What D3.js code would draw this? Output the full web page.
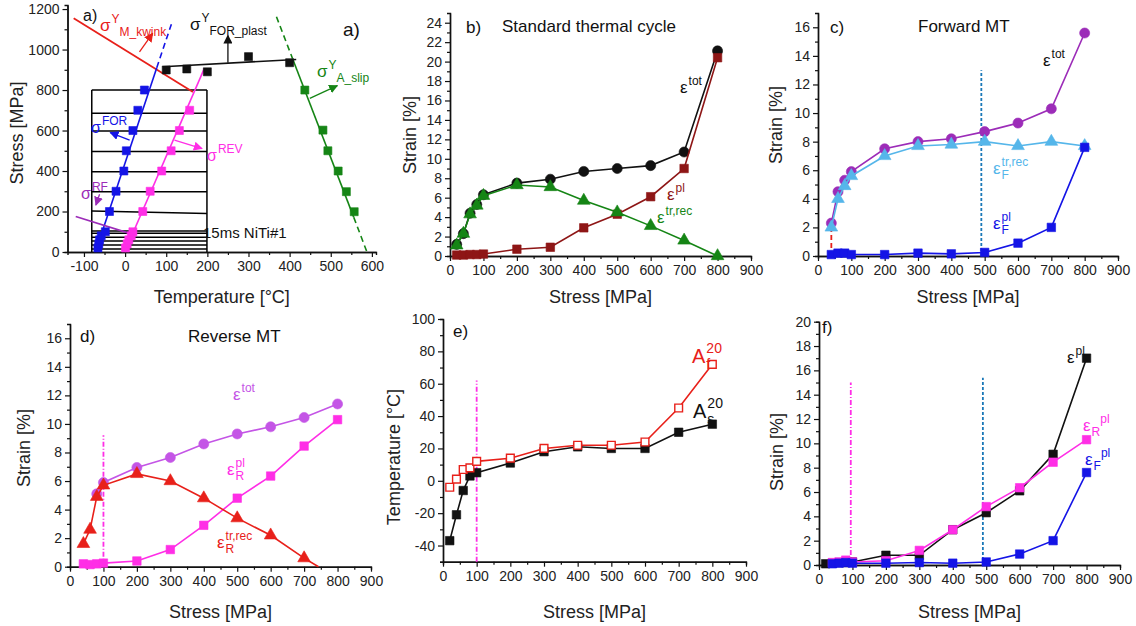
<!DOCTYPE html>
<html lang="en">
<head>
<meta charset="UTF-8" />
<title>NiTi stress / strain panels</title>
<script src="https://d3js.org/d3.v7.min.js"></script>
<style>
  body { margin: 0; background: #fff; }
  text { font-family: "Liberation Sans", Arial, sans-serif; }
</style>
</head>
<body>
<script>
// ---- Data ----
// a) temperature vs stress
const aForStress = [20, 40, 60, 80, 100, 200, 300, 400, 500, 600, 700, 800];
const aForTemp = [-66, -64, -62, -58, -48, -38, -22, -3, 3, 19, 31, 47];
const aRevStress = [20, 40, 60, 80, 100, 200, 300, 400, 500, 600, 700];
const aRevTemp = [1, 5, 9, 15, 19, 43, 61, 89, 112, 132, 157];
const aPlastTemp = [100, 150, 200, 300, 400];
const aPlastStress = [899, 904, 890, 965, 935];
const aSlipTemp = [437, 481, 493, 518, 538, 557];
const aSlipStress = [800, 602, 500, 400, 298, 199];
const aGridLeft = [800, 685, 598, 497, 396, 298, 202, 104, 92, 73, 54, 35, 15];
const aGridRight = [800, 685, 598, 497, 396, 298, 190, 104, 92, 73, 54, 35, 15];
const aGridTemp = [-81, 199];
// fitted lines [temp, stress]
const aFitFor = [[-72, 0], [77, 910]];
const aFitForDash = [[77, 910], [113, 1128]];
const aFitRev = [[-1, 0], [193, 908]];
const aFitKwink = [[-125, 1155], [165, 790]];
const aFitPlast = [[92, 915], [416, 951]];
const aFitSlip = [[407, 956], [556, 171]];
const aFitSlipDash1 = [[368, 1162], [407, 956]];
const aFitSlipDash2 = [[556, 171], [588, 0]];
const aFitRF = [[-120, 175], [11, 92]];

// b) standard thermal cycle
const bStress = [20, 40, 60, 80, 100, 200, 300, 400, 500, 600, 700, 800];
const bTot = [1.2, 2.3, 4.4, 5.3, 6.3, 7.5, 7.9, 8.7, 9.0, 9.3, 10.7, 21.1];
const bPl = [0.1, 0.1, 0.15, 0.15, 0.2, 0.7, 0.9, 2.9, 4.3, 6.1, 9.0, 20.4];
const bTrRec = [1.1, 2.3, 4.3, 5.2, 6.2, 7.3, 7.1, 5.7, 4.5, 3.1, 1.6, 0];

// c) forward MT
const cStress = [40, 60, 80, 100, 200, 300, 400, 500, 600, 700, 800];
const cTot = [2.3, 4.5, 5.3, 5.9, 7.5, 8.0, 8.2, 8.7, 9.3, 10.3, 15.6];
const cTrRec = [2.0, 4.0, 4.9, 5.6, 7.0, 7.7, 7.8, 8.0, 7.7, 8.0, 7.7];
const cPl = [0.1, 0.2, 0.2, 0.1, 0.1, 0.2, 0.15, 0.25, 0.9, 2.0, 7.6];
const cMsStress = 40, cMsTop = 2.2;
const cLimStress = 490, cLimTop = 13;

// d) reverse MT
const dTotStress = [80, 100, 200, 300, 400, 500, 600, 700, 800];
const dTot = [5.1, 5.9, 6.95, 7.65, 8.6, 9.3, 9.8, 10.45, 11.4];
const dTrStress = [40, 60, 80, 100, 200, 300, 400, 500, 600, 700];
const dTrRec = [1.6, 2.6, 4.9, 5.7, 6.5, 6.0, 4.8, 3.4, 2.2, 0.6];
const dTrEnd = [743, 0];
const dPlStress = [40, 60, 80, 100, 200, 300, 400, 500, 600, 700, 800];
const dPl = [0.2, 0.15, 0.2, 0.25, 0.4, 1.2, 2.9, 4.8, 6.35, 8.45, 10.3];
const dLimStress = 100, dLimTop = 9.2;

// e) As / Af
const eStress = [20, 40, 60, 80, 100, 200, 300, 400, 500, 600, 700, 800];
const eAs = [-37, -21, -6, 3, 5, 11, 18, 21, 20, 20, 30, 35];
const eAf = [-4, 1, 7, 8, 12, 14, 20, 22, 22, 24, 45, 72];
const eLimStress = 100, eLimTop = 62;

// f) plastic strains
const fStress = [20, 40, 60, 80, 100, 200, 300, 400, 500, 600, 700, 800];
const fPl = [0.1, 0.15, 0.2, 0.2, 0.25, 0.8, 0.8, 2.9, 4.3, 6.1, 9.1, 17.0];
const fRStress = [40, 60, 80, 100, 200, 300, 400, 500, 600, 700, 800];
const fRPl = [0.2, 0.25, 0.4, 0.25, 0.35, 1.2, 2.9, 4.8, 6.35, 8.45, 10.3];
const fFPl = [0.1, 0.15, 0.2, 0.15, 0.15, 0.2, 0.15, 0.25, 0.9, 2.0, 7.6];
const fLim1Stress = 95, fLim1Top = 15;
const fLim2Stress = 490, fLim2Top = 15.4;

const stressTicks = d3.range(0, 901, 100);
const stressMinor = d3.range(50, 900, 100);

// ---- Drawing ----
const svg = d3.select("body").append("svg").attr("width", 1136).attr("height", 626);
const defs = svg.append("defs");
function arrowHead(id, color) {
  defs.append("marker").attr("id", id).attr("viewBox", "0 0 10 10")
    .attr("refX", 9).attr("refY", 5).attr("markerWidth", 7).attr("markerHeight", 7)
    .attr("orient", "auto-start-reverse")
    .append("path").attr("d", "M0,0 L10,5 L0,10 z").attr("fill", color);
}

const fmt = d => d < 0 ? "-" + Math.abs(d) : String(d);

function panel(c) {
  const x = d3.scaleLinear().domain(c.xd).range(c.xr);
  const y = d3.scaleLinear().domain(c.yd).range(c.yr);
  const g = svg.append("g");
  const ax = g.append("g").attr("transform", `translate(0,${c.yr[0]})`);
  ax.call(d3.axisBottom(x).tickValues(c.xt).tickFormat(fmt).tickSize(5).tickSizeOuter(0).tickPadding(4));
  ax.append("g").call(d3.axisBottom(x).tickValues(c.xm).tickSize(3).tickFormat(""));
  const ay = g.append("g").attr("transform", `translate(${c.xr[0]},0)`);
  ay.call(d3.axisLeft(y).tickValues(c.yt).tickFormat(fmt).tickSize(5).tickSizeOuter(0).tickPadding(3));
  ay.append("g").call(d3.axisLeft(y).tickValues(c.ym).tickSize(3).tickFormat(""));
  g.selectAll(".domain").attr("stroke", "#111").attr("stroke-width", 1.4);
  g.selectAll(".tick line").attr("stroke", "#111").attr("stroke-width", 1.2);
  g.selectAll(".tick text").attr("font-size", 14).attr("fill", "#222")
    .attr("font-family", "'Liberation Sans', Arial, sans-serif");
  g.append("text").attr("x", (c.xr[0] + c.xr[1]) / 2).attr("y", c.xtY)
    .attr("text-anchor", "middle").attr("font-size", 18).attr("fill", "#222").text(c.xLabel);
  g.append("text").attr("transform", `translate(${c.ytX},${c.ytYc}) rotate(-90)`)
    .attr("text-anchor", "middle").attr("font-size", 18).attr("fill", "#222").text(c.yLabel);
  return { g, x, y };
}

function line(p, pts, color, dash, w) {
  p.g.append("path").datum(pts)
    .attr("d", d3.line().x(d => p.x(d[0])).y(d => p.y(d[1])))
    .attr("fill", "none").attr("stroke", color).attr("stroke-width", w || 1.6)
    .attr("stroke-dasharray", dash || null);
}

const shapes = { square: d3.symbolSquare, circle: d3.symbolCircle, triangle: d3.symbolTriangle };
function marks(p, xs, ys, color, shape, size, open) {
  p.g.append("g").selectAll("path").data(xs.map((v, i) => [v, ys[i]])).join("path")
    .attr("transform", d => `translate(${p.x(d[0])},${p.y(d[1])})`)
    .attr("d", d3.symbol().type(shapes[shape]).size(size))
    .attr("fill", open ? "#fff" : color).attr("stroke", color).attr("stroke-width", open ? 1.4 : 0.6);
}
function series(p, xs, ys, color, shape, size, open, extra) {
  const pts = xs.map((v, i) => [v, ys[i]]);
  line(p, extra ? pts.concat([extra]) : pts, color);
  marks(p, xs, ys, color, shape, size, open);
}

// rich text: parts [text, role]; b=base, u=sup, d=sub, D=sub under previous
function rich(g, x, y, color, parts, big, small) {
  big = big || 17; small = small || 12;
  let cx = x, lastX = x;
  parts.forEach(([t, role]) => {
    const size = role === "b" ? big : small;
    const yy = role === "b" ? y : role === "u" ? y - big * 0.5 : y + big * 0.3;
    const px = role === "D" ? lastX : cx;
    const el = g.append("text").attr("x", px).attr("y", yy).attr("font-size", size)
      .attr("fill", color).text(t);
    const w = el.node().getComputedTextLength();
    lastX = px;
    cx = Math.max(cx, px + w + (role === "b" ? 1 : 0));
  });
}
function label(g, x, y, t, size, color) {
  g.append("text").attr("x", x).attr("y", y).attr("font-size", size).attr("fill", color || "#111").text(t);
}
function arrow(p, from, to, color, id) {
  p.g.append("line").attr("x1", p.x(from[0])).attr("y1", p.y(from[1]))
    .attr("x2", p.x(to[0])).attr("y2", p.y(to[1]))
    .attr("stroke", color).attr("stroke-width", 1.3).attr("marker-end", `url(#${id})`);
}

const BLUE = "#1414e6", MAG = "#ff2ee6", GREEN = "#158515", RED = "#e8201a", PURPLE = "#9c2cb8";
arrowHead("arBlk", "#111"); arrowHead("arRed", RED); arrowHead("arBlue", BLUE);
arrowHead("arMag", MAG); arrowHead("arGrn", GREEN); arrowHead("arPur", PURPLE);

// ===== a) =====
const pa = panel({
  xd: [-140, 610], xr: [67.5, 376], yd: [0, 1220], yr: [252, 5],
  xt: d3.range(-100, 601, 100), xm: d3.range(-50, 601, 100),
  yt: d3.range(0, 1201, 200), ym: d3.range(100, 1201, 200),
  xLabel: "Temperature [°C]", xtY: 303, yLabel: "Stress [MPa]", ytX: 23, ytYc: 133
});
// measurement grid
aGridLeft.forEach((v, i) => line(pa, [[aGridTemp[0], v], [aGridTemp[1], aGridRight[i]]], "#000", null, 1.5));
line(pa, [[aGridTemp[0], 0], [aGridTemp[0], aGridLeft[0]]], "#000", null, 1.5);
line(pa, [[aGridTemp[1], 0], [aGridTemp[1], aGridRight[0]]], "#000", null, 1.5);
label(pa.g, 203, 238, "15ms NiTi#1", 15);

line(pa, aFitKwink, RED, null, 1.8);
line(pa, aFitFor, BLUE);
line(pa, aFitForDash, BLUE, "6,4");
line(pa, aFitRev, MAG);
line(pa, aFitPlast, "#111");
line(pa, aFitSlip, GREEN);
line(pa, aFitSlipDash1, GREEN, "6,4");
line(pa, aFitSlipDash2, GREEN, "6,4");
line(pa, aFitRF, PURPLE);
marks(pa, aForTemp, aForStress, BLUE, "square", 64);
marks(pa, aRevTemp, aRevStress, MAG, "square", 64);
marks(pa, aPlastTemp, aPlastStress, "#111", "square", 64);
marks(pa, aSlipTemp, aSlipStress, GREEN, "square", 64);
arrow(pa, [35, 989], [67, 1080], RED, "arRed");
arrow(pa, [250, 935], [250, 1070], "#111", "arBlk");
arrow(pa, [449, 759], [516, 822], GREEN, "arGrn");
arrow(pa, [11, 553], [-36, 590], BLUE, "arBlue");
arrow(pa, [120, 553], [187, 511], MAG, "arMag");
arrow(pa, [-62, 285], [-71, 232], PURPLE, "arPur");
label(pa.g, 83, 21, "a)", 16);
label(pa.g, 343, 36, "a)", 19);
rich(pa.g, 100, 31, RED, [["σ", "b"], ["Y", "u"], ["M_kwink", "d"]], 17, 12);
rich(pa.g, 190, 30, "#111", [["σ", "b"], ["Y", "u"], ["FOR_plast", "d"]], 17, 12);
rich(pa.g, 317, 77, GREEN, [["σ", "b"], ["Y", "u"], ["A_slip", "d"]], 17, 12);
rich(pa.g, 91, 133, BLUE, [["σ", "b"], ["FOR", "u"]], 16, 12);
rich(pa.g, 207, 161, MAG, [["σ", "b"], ["REV", "u"]], 16, 12);
rich(pa.g, 81, 199, PURPLE, [["σ", "b"], ["RF", "u"]], 16, 12);

// ===== b) =====
const pb = panel({
  xd: [0, 900], xr: [450, 751], yd: [0, 25], yr: [256, 13],
  xt: stressTicks, xm: stressMinor, yt: d3.range(0, 25, 2), ym: d3.range(1, 25, 2),
  xLabel: "Stress [MPa]", xtY: 303, yLabel: "Strain [%]", ytX: 416, ytYc: 135
});
const DRED = "#8e1616";
series(pb, bStress, bTot, "#111", "circle", 80);
series(pb, bStress, bPl, DRED, "square", 72);
series(pb, bStress, bTrRec, GREEN, "triangle", 70);
label(pb.g, 466, 33, "b)", 17);
label(pb.g, 502, 32, "Standard thermal cycle", 17);
rich(pb.g, 680, 93, "#111", [["ε", "b"], ["tot", "u"]]);
rich(pb.g, 667, 200, DRED, [["ε", "b"], ["pl", "u"]]);
rich(pb.g, 657, 223, GREEN, [["ε", "b"], ["tr,rec", "u"]]);

// ===== c) =====
const pc = panel({
  xd: [0, 900], xr: [818, 1118], yd: [0, 17], yr: [256, 13],
  xt: stressTicks, xm: stressMinor, yt: d3.range(0, 17, 2), ym: d3.range(1, 17, 2),
  xLabel: "Stress [MPa]", xtY: 303, yLabel: "Strain [%]", ytX: 782, ytYc: 125
});
const LBLUE = "#55b6ea", VBLUE = "#1a78b8";
line(pc, [[cMsStress, 0], [cMsStress, cMsTop]], RED, "5,3", 1.8);
line(pc, [[cLimStress, 0], [cLimStress, cLimTop]], VBLUE, "3,2", 1.8);
series(pc, cStress, cTot, PURPLE, "circle", 80);
series(pc, cStress, cTrRec, LBLUE, "triangle", 70);
series(pc, cStress, cPl, BLUE, "square", 72);
label(pc.g, 830, 33, "c)", 17);
label(pc.g, 918, 32, "Forward MT", 17);
rich(pc.g, 1043, 66, "#111", [["ε", "b"], ["tot", "u"]]);
rich(pc.g, 993, 174, LBLUE, [["ε", "b"], ["tr,rec", "u"], ["F", "D"]]);
rich(pc.g, 993, 229, BLUE, [["ε", "b"], ["pl", "u"], ["F", "D"]]);

// ===== d) =====
const pd = panel({
  xd: [0, 900], xr: [70, 371], yd: [0, 17], yr: [566.7, 324],
  xt: stressTicks, xm: stressMinor, yt: d3.range(0, 17, 2), ym: d3.range(1, 17, 2),
  xLabel: "Stress [MPa]", xtY: 618, yLabel: "Strain [%]", ytX: 30, ytYc: 448
});
const ORCH = "#c455e6";
line(pd, [[dLimStress, 0], [dLimStress, dLimTop]], MAG, "5,2,1,2", 1.8);
series(pd, dTotStress, dTot, ORCH, "circle", 80);
series(pd, dPlStress, dPl, MAG, "square", 72);
series(pd, dTrStress, dTrRec, RED, "triangle", 70, false, dTrEnd);
label(pd.g, 80, 342, "d)", 17);
label(pd.g, 188, 342, "Reverse MT", 17);
rich(pd.g, 233, 400, ORCH, [["ε", "b"], ["tot", "u"]]);
rich(pd.g, 227, 475, MAG, [["ε", "b"], ["pl", "u"], ["R", "D"]]);
rich(pd.g, 217, 548, RED, [["ε", "b"], ["tr,rec", "u"], ["R", "D"]]);

// ===== e) =====
const pe = panel({
  xd: [0, 900], xr: [443, 746], yd: [-50, 100], yr: [561.7, 319],
  xt: stressTicks, xm: stressMinor, yt: d3.range(-40, 101, 20), ym: d3.range(-50, 100, 20),
  xLabel: "Stress [MPa]", xtY: 618, yLabel: "Temperature [°C]", ytX: 400, ytYc: 457
});
line(pe, [[eLimStress, -50], [eLimStress, eLimTop]], MAG, "5,2,1,2", 1.8);
series(pe, eStress, eAs, "#111", "square", 72);
series(pe, eStress, eAf, RED, "square", 60, true);
label(pe.g, 453, 337, "e)", 17);
rich(pe.g, 692, 363, RED, [["A", "b"], ["20", "u"], ["f", "D"]], 20, 14);
rich(pe.g, 693, 418, "#111", [["A", "b"], ["20", "u"], ["s", "D"]], 20, 14);

// ===== f) =====
const pf = panel({
  xd: [0, 900], xr: [819, 1120], yd: [0, 20], yr: [565, 321.7],
  xt: stressTicks, xm: stressMinor, yt: d3.range(0, 21, 2), ym: d3.range(1, 20, 2),
  xLabel: "Stress [MPa]", xtY: 618, yLabel: "Strain [%]", ytX: 783, ytYc: 452
});
line(pf, [[fLim1Stress, 0], [fLim1Stress, fLim1Top]], MAG, "5,2,1,2", 1.8);
line(pf, [[fLim2Stress, 0], [fLim2Stress, fLim2Top]], VBLUE, "3,2", 1.8);
series(pf, fStress, fPl, "#111", "square", 72);
series(pf, fRStress, fRPl, MAG, "square", 72);
series(pf, fRStress, fFPl, BLUE, "square", 72);
label(pf.g, 822, 333, "f)", 17);
rich(pf.g, 1067, 363, "#111", [["ε", "b"], ["pl", "u"]]);
rich(pf.g, 1083, 431, MAG, [["ε", "b"], ["R", "d"], ["pl", "u"]]);
rich(pf.g, 1085, 465, BLUE, [["ε", "b"], ["F", "d"], ["pl", "u"]]);
</script>
</body>
</html>
